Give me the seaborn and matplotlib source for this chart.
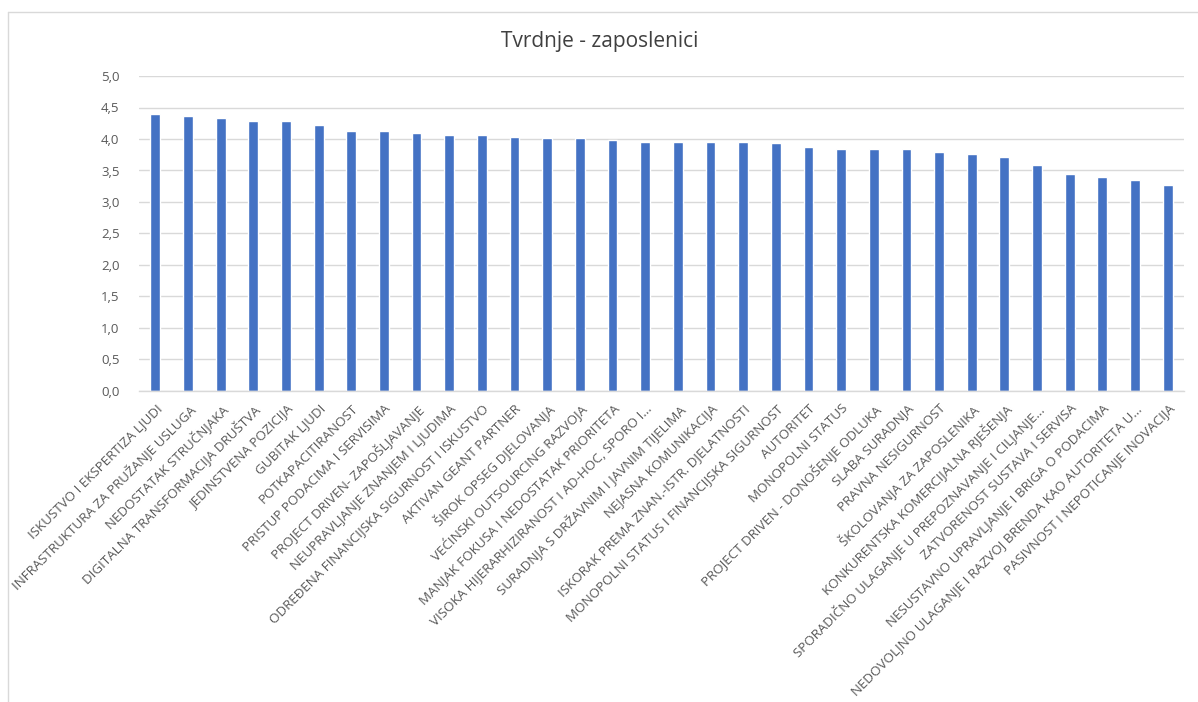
import matplotlib
matplotlib.use("Agg")
import matplotlib.pyplot as plt
from matplotlib.lines import Line2D
from matplotlib.ticker import FuncFormatter, MultipleLocator
import seaborn as sns
import pandas as pd

categories = [
    "ISKUSTVO I EKSPERTIZA LJUDI",
    "INFRASTRUKTURA ZA PRUŽANJE USLUGA",
    "NEDOSTATAK STRUČNJAKA",
    "DIGITALNA TRANSFORMACIJA DRUŠTVA",
    "JEDINSTVENA POZICIJA",
    "GUBITAK LJUDI",
    "POTKAPACITIRANOST",
    "PRISTUP PODACIMA I SERVISIMA",
    "PROJECT DRIVEN- ZAPOŠLJAVANJE",
    "NEUPRAVLJANJE ZNANJEM I LJUDIMA",
    "ODREĐENA FINANCIJSKA SIGURNOST I ISKUSTVO",
    "AKTIVAN GEANT PARTNER",
    "ŠIROK OPSEG DJELOVANJA",
    "VEĆINSKI OUTSOURCING RAZVOJA",
    "MANJAK FOKUSA I NEDOSTATAK PRIORITETA",
    "VISOKA HIJERARHIZIRANOST I AD-HOC, SPORO I...",
    "SURADNJA S DRŽAVNIM I JAVNIM TIJELIMA",
    "NEJASNA KOMUNIKACIJA",
    "ISKORAK PREMA ZNAN.-ISTR. DJELATNOSTI",
    "MONOPOLNI STATUS I FINANCIJSKA SIGURNOST",
    "AUTORITET",
    "MONOPOLNI STATUS",
    "PROJECT DRIVEN - DONOŠENJE ODLUKA",
    "SLABA SURADNJA",
    "PRAVNA NESIGURNOST",
    "ŠKOLOVANJA ZA ZAPOSLENIKA",
    "KONKURENTSKA KOMERCIJALNA RJEŠENJA",
    "SPORADIČNO ULAGANJE U PREPOZNAVANJE I CILJANJE...",
    "ZATVORENOST SUSTAVA I SERVISA",
    "NESUSTAVNO UPRAVLJANJE I BRIGA O PODACIMA",
    "NEDOVOLJNO ULAGANJE I RAZVOJ BRENDA KAO AUTORITETA U...",
    "PASIVNOST I NEPOTICANJE INOVACIJA",
]
values = [
    4.39, 4.36, 4.33, 4.28, 4.28, 4.22, 4.12, 4.12, 4.09, 4.06, 4.06,
    4.03, 4.01, 4.01, 3.98, 3.95, 3.95, 3.95, 3.95, 3.93, 3.87, 3.84,
    3.84, 3.84, 3.79, 3.76, 3.71, 3.59, 3.45, 3.40, 3.35, 3.27,
]
title = "Tvrdnje - zaposlenici"

sns.set_theme(style="white")
plt.rcParams["font.family"] = ["Open Sans", "DejaVu Sans"]

df = pd.DataFrame({"cat": categories, "val": values})

W, H = 1198, 702
fig = plt.figure(figsize=(W / 100, H / 100), dpi=100)
ax = fig.add_axes([139 / W, 1 - 391 / H, (1184 - 139) / W, (391 - 76) / H])

sns.barplot(data=df, x="cat", y="val", color="#4472C4", width=0.3,
            saturation=1, ax=ax)

ax.set_ylim(0, 5)
ax.yaxis.set_major_locator(MultipleLocator(0.5))
ax.yaxis.set_major_formatter(FuncFormatter(lambda v, p: f"{v:.1f}".replace(".", ",")))
ax.grid(axis="y", color="#D9D9D9", lw=1)
ax.set_axisbelow(True)
for s in ["top", "right", "left"]:
    ax.spines[s].set_visible(False)
ax.spines["bottom"].set_color("#D9D9D9")
ax.spines["bottom"].set_linewidth(1)
ax.set_xlabel("")
ax.set_ylabel("")
ax.tick_params(axis="both", length=0)
ax.tick_params(axis="y", labelsize=9.5, labelcolor="#595959", pad=14)
ax.set_xticks(range(len(categories)))
ax.set_xticklabels(categories, rotation=45, ha="right", va="top",
                   rotation_mode="anchor", fontsize=9.6, color="#595959")
ax.tick_params(axis="x", pad=8)

fig.text(600 / W, 1 - 42 / H, title, ha="center", va="center",
         fontsize=15, color="#404040")

# outer chart frame
fig.add_artist(Line2D([8 / W, 1.0], [1 - 12 / H, 1 - 12 / H],
                      transform=fig.transFigure, color="#D9D9D9", lw=1))
fig.add_artist(Line2D([8 / W, 8 / W], [1 - 12 / H, 0.0],
                      transform=fig.transFigure, color="#D9D9D9", lw=1))

fig.savefig("out.png", dpi=100, facecolor="white")
